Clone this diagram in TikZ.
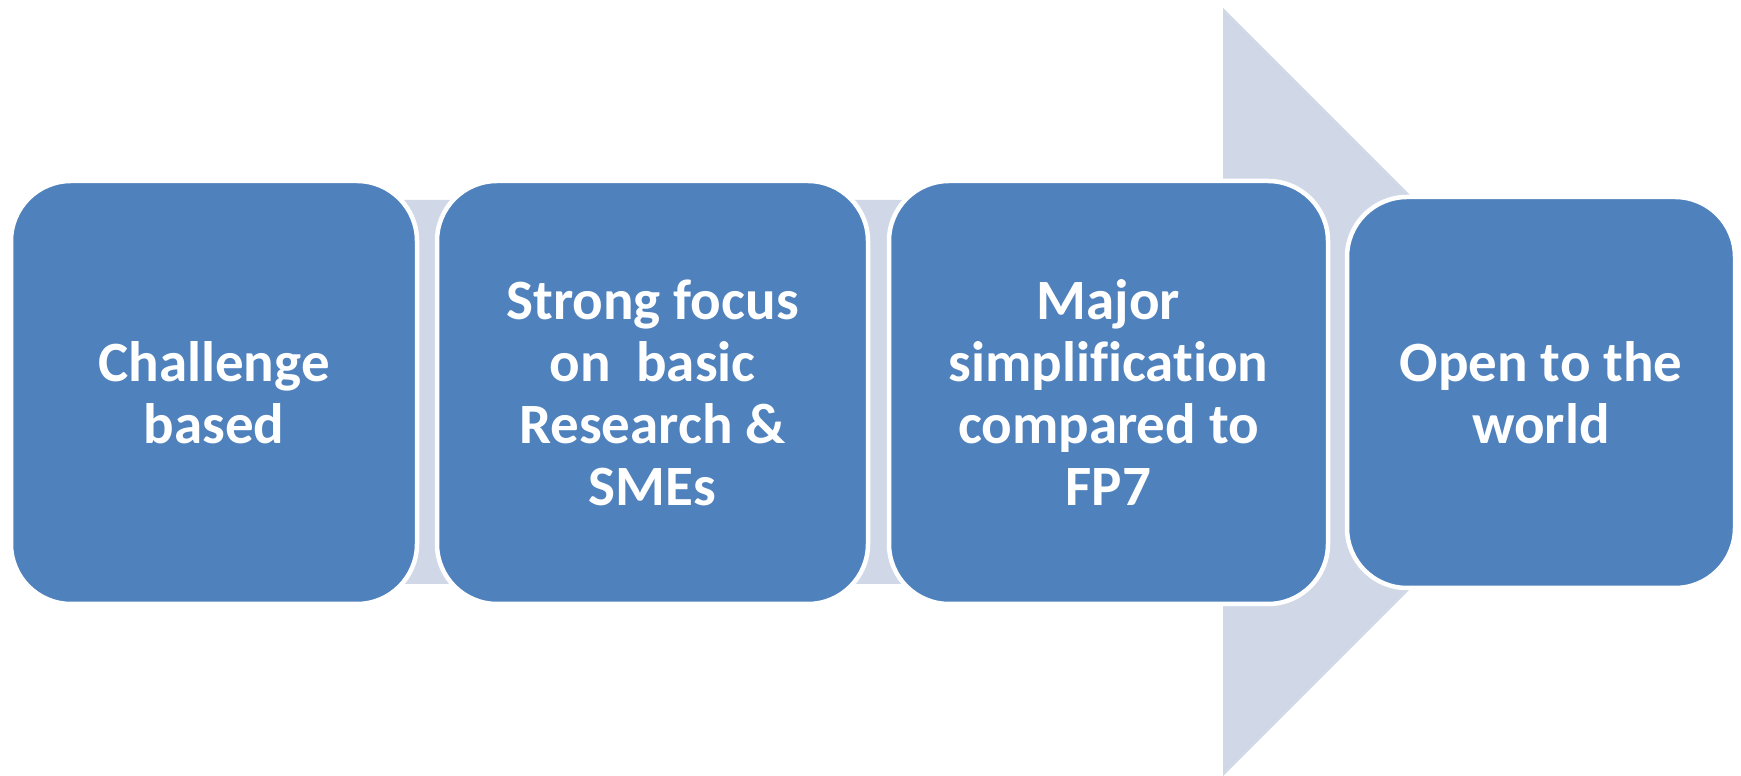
\documentclass[tikz,border=0pt]{standalone}
\usepackage{fontspec}
\setmainfont{Carlito}[Ligatures=NoCommon]
\definecolor{boxblue}{HTML}{4F81BD}
\definecolor{arrowgray}{HTML}{D0D8E8}
\begin{document}
\begin{tikzpicture}[x=1pt,y=1pt,
    stage/.style={draw=white, line width=4.5pt, fill=boxblue, rounded corners=60pt,
      text=white, font=\fontsize{57}{62}\selectfont\bfseries, align=center,
      inner sep=0pt, minimum height=423pt}]
  \useasboundingbox (0,0) rectangle (1741,776);
  % background arrow
  \fill[arrowgray] (214,192)--(1223,192)--(1223,0)--(1607,384)--(1223,768)--(1223,576)--(214,576)--cycle;
  \node[stage, minimum width=406pt] (challenge) at (214,383.5) {Challenge\\based};
  \node[stage, minimum width=431pt] (research) at (652.5,383.5) {Strong focus\\on\ \ basic\\Research \&\\SMEs};
  \node[stage, minimum width=439pt] (simplify) at (1108.5,383.5) {Major\\simplification\\compared to\\FP7};
  \node[stage, minimum width=388pt, minimum height=391pt] (world) at (1541,383.5) {Open to the\\world};
\end{tikzpicture}
\end{document}
